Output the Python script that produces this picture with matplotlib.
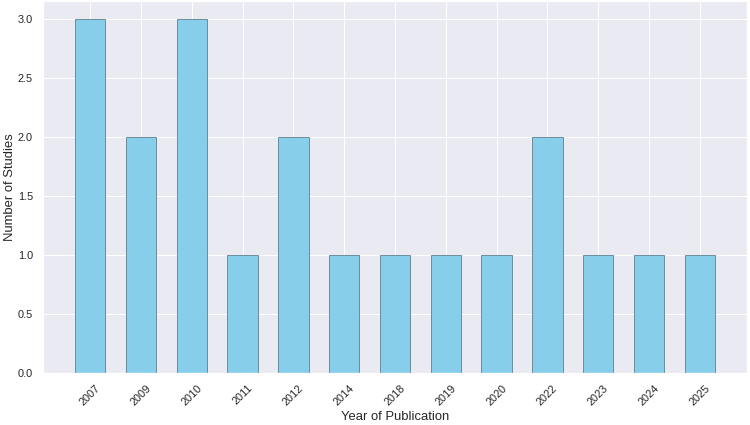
import matplotlib
matplotlib.use("Agg")
import matplotlib.pyplot as plt
import seaborn as sns

years = ["2007", "2009", "2010", "2011", "2012", "2014", "2018", "2019", "2020", "2022", "2023", "2024", "2025"]
counts = [3, 2, 3, 1, 2, 1, 1, 1, 1, 2, 1, 1, 1]

sns.set_theme(style="darkgrid")
plt.rcParams['font.family'] = ['Liberation Sans', 'DejaVu Sans']

fig, ax = plt.subplots(figsize=(10, 5.667), dpi=75)
fig.subplots_adjust(left=43/750, right=747/750, top=1-1.5/425, bottom=1-373/425)
ax.bar(years, counts, width=0.6, color="skyblue", edgecolor="#5f7f8f", linewidth=0.8)
ax.set_xlabel("Year of Publication", fontsize=12.5)
ax.set_ylabel("Number of Studies", fontsize=12.5, labelpad=2)
ax.tick_params(axis='x', labelsize=10.5, rotation=45)
ax.tick_params(axis='y', labelsize=10.5)
fig.savefig("out.png")
